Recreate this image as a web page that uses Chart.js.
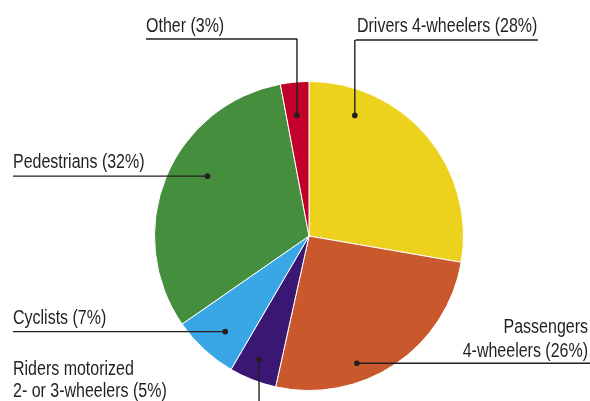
<!DOCTYPE html>
<html>
<head>
<meta charset="utf-8">
<script src="https://cdn.jsdelivr.net/npm/chart.js@4/dist/chart.umd.min.js"></script>
<style>
  html, body { margin: 0; padding: 0; background: #fff; }
  #wrap { width: 590px; height: 401px; position: relative; }
</style>
</head>
<body>
<div id="wrap"><canvas id="chart" width="590" height="401"></canvas></div>
<script>
// Road traffic deaths by road user type
const categories = ['Drivers 4-wheelers', 'Passengers 4-wheelers', 'Riders motorized 2- or 3-wheelers', 'Cyclists', 'Pedestrians', 'Other'];
const shares = [28, 26, 5, 7, 32, 3];
const colors = ['#ecd21d', '#c9582d', '#3a1772', '#39a7e6', '#458e3d', '#c3002b'];

// no narrow face installed, so squeeze Liberation Sans to Arial Narrow proportions
const FONT = '19.5px "Liberation Sans", Arial, sans-serif';
const SQUEEZE = 0.82;
const INK = '#231f20';

// label layout: anchor dot in polar terms (deg from top, fraction of radius), then the leader route
const labelLayout = [
    { split: null, dot: [20.8, 0.835], route: 'up', lineY: 40, x0: 355.5, x1: 538, textX: 357, align: 'left', baselines: [32] },
    { split: 'Passengers', dot: [159.4, 0.88], route: 'right', x1: 590, textX: 588, align: 'right', baselines: [333, 357] },
    { split: 'Riders motorized', dot: [202, 0.863], route: 'down', textX: 13, align: 'left', baselines: [375, 397] },
    { split: null, dot: [221.2, 0.823], route: 'left', x1: 13, textX: 13, align: 'left', baselines: [324] },
    { split: null, dot: [300.5, 0.763], route: 'left', x1: 13, textX: 13, align: 'left', baselines: [168] },
    { split: null, dot: [354.3, 0.785], route: 'up', lineY: 39, x0: 146, x1: 297.5, textX: 146, align: 'left', baselines: [32] }
];

function squeezedText(ctx, text, x, y) {
    ctx.save();
    ctx.translate(x, y);
    ctx.scale(SQUEEZE, 1);
    ctx.fillText(text, 0, 0);
    ctx.restore();
}

const calloutPlugin = {
    id: 'callouts',
    afterDraw(chart) {
        const ctx = chart.ctx;
        const meta = chart.getDatasetMeta(0);
        ctx.save();
        ctx.font = FONT;
        ctx.fillStyle = INK;
        ctx.strokeStyle = INK;
        ctx.lineWidth = 1.4;
        labelLayout.forEach((lab, i) => {
            const arc = meta.data[i];
            const R = arc.outerRadius;
            const a = lab.dot[0] * Math.PI / 180;
            const dx = arc.x + lab.dot[1] * R * Math.sin(a);
            const dy = arc.y - lab.dot[1] * R * Math.cos(a);

            ctx.beginPath();
            if (lab.route === 'up') {
                ctx.moveTo(dx, dy);
                ctx.lineTo(dx, lab.lineY);
                ctx.moveTo(lab.x0, lab.lineY);
                ctx.lineTo(lab.x1, lab.lineY);
            } else if (lab.route === 'left' || lab.route === 'right') {
                ctx.moveTo(dx, dy);
                ctx.lineTo(lab.x1, dy);
            } else if (lab.route === 'down') {
                ctx.moveTo(dx, dy);
                ctx.lineTo(dx, chart.height);
            }
            ctx.stroke();

            ctx.beginPath();
            ctx.arc(dx, dy, 2.8, 0, Math.PI * 2);
            ctx.fill();

            const full = `${categories[i]} (${shares[i]}%)`;
            const lines = lab.split ? [lab.split, full.slice(lab.split.length + 1)] : [full];
            ctx.textAlign = lab.align;
            ctx.textBaseline = 'alphabetic';
            lines.forEach((t, k) => squeezedText(ctx, t, lab.textX, lab.baselines[k]));
        });
        ctx.restore();
    }
};

new Chart(document.getElementById('chart'), {
    type: 'pie',
    data: {
        labels: categories,
        datasets: [{
            data: shares,
            backgroundColor: colors,
            borderColor: '#ffffff',
            borderWidth: 1
        }]
    },
    options: {
        responsive: false,
        animation: false,
        layout: { padding: { top: 81, bottom: 10, left: 154, right: 126 } },
        plugins: { legend: { display: false }, tooltip: { enabled: false } }
    },
    plugins: [calloutPlugin]
});
</script>
</body>
</html>
